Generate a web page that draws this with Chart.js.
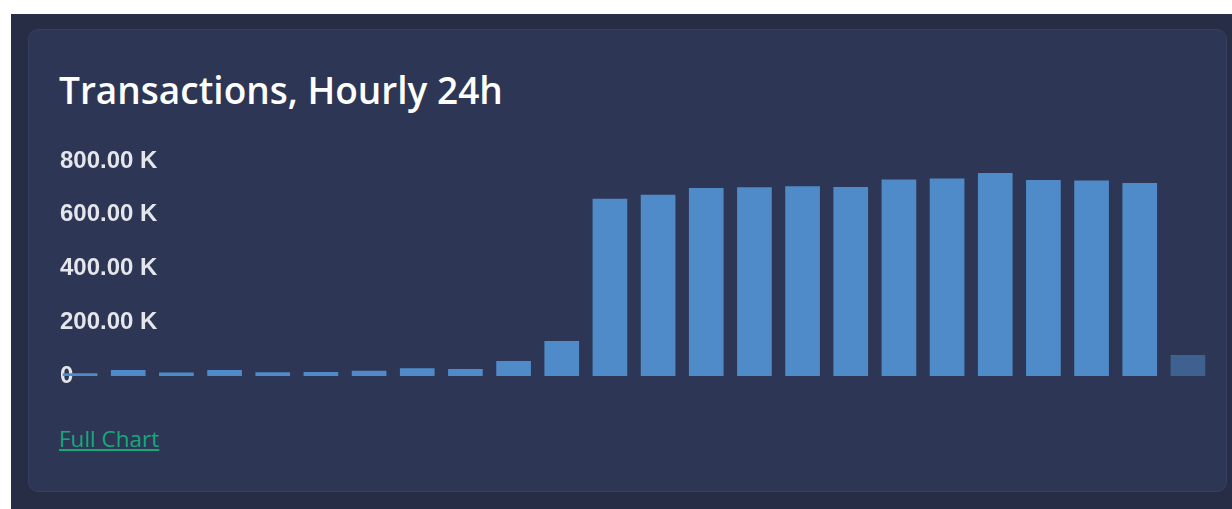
<!DOCTYPE html>
<html>
<head>
<meta charset="utf-8">
<script src="https://cdn.jsdelivr.net/npm/chart.js@4.4.1/dist/chart.umd.min.js"></script>
<style>
  html, body { margin: 0; padding: 0; background: #ffffff; }
  body { width: 1232px; height: 509px; position: relative; overflow: hidden; }
  .outer { position: absolute; left: 11px; top: 14px; width: 1221px; height: 495px; background: #262d45; }
  .card {
    position: absolute; left: 28px; top: 29px; width: 1197px; height: 461px;
    background: #2d3655; border: 1px solid #353f60; border-radius: 10px;
  }
  .title {
    position: absolute; left: 59px; top: 70px; margin: 0; line-height: 40px;
    font-family: "Open Sans", sans-serif; font-weight: 600; font-size: 37px;
    color: #ffffff; white-space: nowrap;
  }
  .chart-box { position: absolute; left: 56px; top: 146px; width: 1156px; height: 240px; }
  .link {
    position: absolute; left: 59px; top: 423px;
    font-family: "Open Sans", sans-serif; font-size: 22.5px;
    color: #18a77b; text-decoration: underline;
  }
</style>
</head>
<body>
<div class="outer"></div>
<div class="card"></div>
<h2 class="title">Transactions, Hourly 24h</h2>
<div class="chart-box"><canvas id="txChart"></canvas></div>
<a class="link" href="#">Full Chart</a>

<script>
// datos por hora (24 barras, la ultima es la hora en curso)
const hours = ['00', '01', '02', '03', '04', '05', '06', '07', '08', '09', '10', '11',
               '12', '13', '14', '15', '16', '17', '18', '19', '20', '21', '22', '23'];
const transactions = [10000, 22000, 13000, 22000, 14000, 15000, 20000, 29000, 26000, 56000, 130000, 660000,
                      674000, 700000, 702000, 706000, 703000, 731000, 735000, 755000, 729000, 727000, 718000, 78000];
const yTicks = [0, 200000, 400000, 600000, 800000];

const barColor = '#4f8bc9';
const currentColor = 'rgba(79, 139, 201, 0.5)';

const ctx = document.getElementById('txChart').getContext('2d');

new Chart(ctx, {
    type: 'bar',
    data: {
        labels: hours,
        datasets: [{
            label: 'Transactions',
            data: transactions,
            backgroundColor: transactions.map((v, i) => i === transactions.length - 1 ? currentColor : barColor),
            borderWidth: 0
        }]
    },
    options: {
        responsive: true,
        maintainAspectRatio: false,
        animation: false,
        layout: { padding: { top: 15, bottom: 10, left: 0, right: 0 } },
        plugins: {
            legend: { display: false },
            tooltip: { enabled: false }
        },
        scales: {
            x: { display: false },
            y: {
                min: yTicks[0],
                max: yTicks[yTicks.length - 1],
                z: 1,
                grid: { display: false, drawTicks: false, tickLength: 0 },
                border: { display: false },
                afterBuildTicks: (scale) => {
                    scale.ticks = yTicks.map(v => ({ value: v }));
                },
                // las etiquetas van dentro del area, sin ocupar ancho
                afterFit: (scale) => {
                    scale.width = 0;
                    scale.paddingTop = 0;
                    scale.paddingBottom = 0;
                },
                ticks: {
                    mirror: true,
                    padding: 4,
                    color: '#e4e6ec',
                    font: { family: 'Liberation Sans, Arial, sans-serif', size: 24, weight: 'bold' },
                    callback: (value) => value === 0 ? '0' : (value / 1000).toFixed(2) + ' K'
                }
            }
        }
    }
});
</script>
</body>
</html>
